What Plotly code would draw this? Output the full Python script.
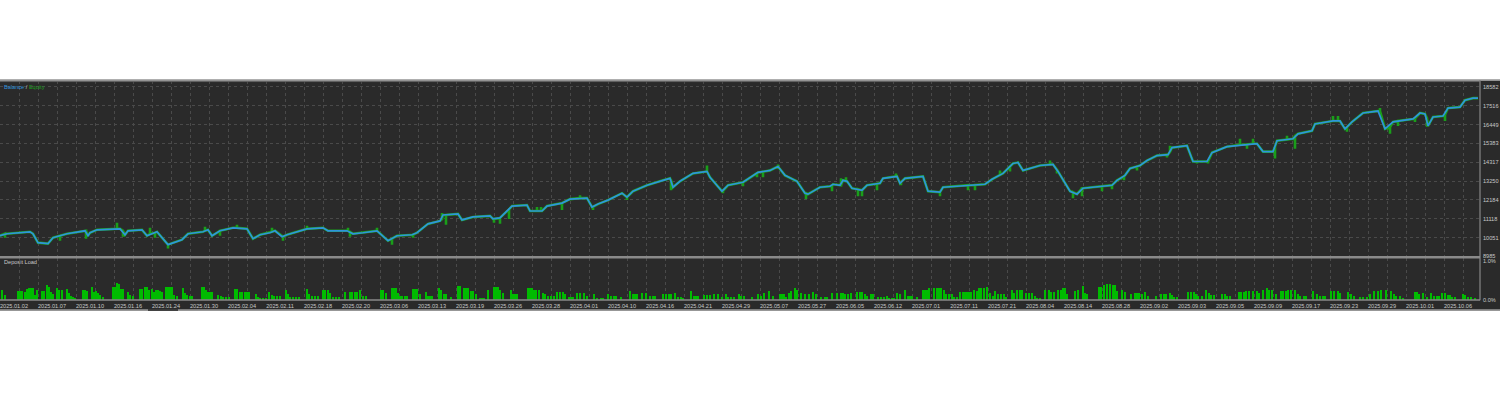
import plotly.graph_objects as go

W, H = 1500, 393

# ---------------- data ----------------
date_labels = ['2025.01.02', '2025.01.07', '2025.01.10', '2025.01.16', '2025.01.24', '2025.01.30',
               '2025.02.04', '2025.02.11', '2025.02.18', '2025.02.20', '2025.03.06', '2025.03.13',
               '2025.03.19', '2025.03.26', '2025.03.28', '2025.04.01', '2025.04.10', '2025.04.16',
               '2025.04.21', '2025.04.29', '2025.05.07', '2025.05.27', '2025.06.05', '2025.06.12',
               '2025.07.01', '2025.07.11', '2025.07.21', '2025.08.04', '2025.08.14', '2025.08.28',
               '2025.09.02', '2025.09.03', '2025.09.05', '2025.09.09', '2025.09.17', '2025.09.23',
               '2025.09.29', '2025.10.01', '2025.10.06']

y_tick_values = [8985, 10051, 11118, 12184, 13250, 14317, 15383, 16449, 17516, 18582]
load_tick_values = [0.0, 1.0]

# balance curve: (deal number, balance)
balance = [
    (0, 10160), (7, 10272), (30, 10384), (33, 10272), (38, 9769), (48, 9713), (53, 10048),
    (67, 10272), (85, 10440), (88, 10160), (90, 10328), (97, 10496), (120, 10552), (125, 10216),
    (128, 10440), (142, 10496), (147, 10160), (157, 10384), (168, 9657), (182, 9936), (188, 10272),
    (203, 10384), (208, 10496), (212, 10160), (220, 10440), (233, 10608), (247, 10552), (253, 9992),
    (260, 10216), (270, 10328), (275, 10440), (282, 10104), (287, 10216), (307, 10552), (323, 10608),
    (328, 10440), (347, 10440), (353, 10272), (363, 10328), (377, 10440), (388, 9881), (397, 10160),
    (412, 10216), (417, 10328), (428, 10832), (440, 11000), (443, 11336), (458, 11392), (462, 11056),
    (473, 11224), (490, 11280), (493, 11112), (500, 11168), (512, 11839), (527, 11895), (530, 11560),
    (542, 11560), (547, 11839), (562, 12007), (570, 12231), (587, 12287), (592, 11784), (598, 11951),
    (608, 12175), (622, 12567), (627, 12343), (633, 12679), (647, 13015), (663, 13295), (670, 13407),
    (673, 12903), (680, 13239), (693, 13686), (707, 13798), (710, 13463), (722, 12679), (728, 13015),
    (743, 13183), (758, 13742), (770, 13854), (778, 14078), (785, 13575), (797, 13239), (805, 12567),
    (808, 12511), (820, 12903), (830, 12959), (833, 13071), (840, 13015), (843, 13295), (847, 13239),
    (852, 12847), (862, 12735), (867, 13015), (880, 13127), (883, 13407), (897, 13519), (900, 13127),
    (905, 13407), (923, 13519), (928, 12679), (940, 12623), (943, 12903), (967, 13015), (985, 13071),
    (992, 13351), (1003, 13686), (1013, 14246), (1018, 14302), (1023, 13854), (1033, 14022),
    (1040, 14134), (1053, 14190), (1058, 13798), (1070, 12679), (1077, 12511), (1083, 12847),
    (1100, 12959), (1112, 13015), (1117, 13295), (1125, 13575), (1130, 13966), (1140, 14134),
    (1147, 14414), (1157, 14694), (1168, 14750), (1172, 15142), (1187, 15254), (1193, 14358),
    (1207, 14358), (1212, 14862), (1227, 15198), (1243, 15310), (1257, 15366), (1263, 14918),
    (1273, 14918), (1277, 15533), (1293, 15645), (1298, 15925), (1312, 16093), (1315, 16485),
    (1333, 16653), (1340, 16653), (1345, 16205), (1352, 16597), (1363, 17101), (1378, 17213),
    (1385, 16205), (1393, 16597), (1413, 16765), (1420, 17101), (1425, 17045), (1428, 16373),
    (1433, 16877), (1443, 16933), (1448, 17381), (1460, 17436), (1465, 17828), (1473, 17940),
    (1478, 17940),
]

# equity excursions away from balance: (deal number, balance there, equity extreme)
equity_spikes = [
    (5, 10272, 10048), (60, 10160, 9881), (86, 10440, 9992), (117, 10552, 10888),
    (123, 10440, 10104), (150, 10272, 10608), (155, 10328, 10048), (168, 9657, 9433),
    (205, 10440, 10664), (220, 10440, 10160), (237, 10608, 10776), (272, 10384, 10608),
    (283, 10104, 9881), (307, 10552, 10720), (348, 10440, 10608), (350, 10384, 10104),
    (377, 10440, 10608), (392, 10000, 9657), (413, 10216, 10048), (442, 11100, 11448),
    (446, 11336, 10776), (494, 11112, 10888), (500, 11168, 10832), (509, 11650, 11112),
    (537, 11560, 11784), (541, 11560, 11784), (562, 12007, 11616), (580, 12287, 12455),
    (593, 11800, 11616), (627, 12343, 12175), (671, 13300, 12735), (707, 13798, 14134),
    (723, 12700, 12567), (743, 13183, 12959), (757, 13700, 13463), (763, 13780, 13463),
    (778, 14078, 14190), (806, 12567, 12231), (832, 13000, 12679), (841, 13015, 13407),
    (846, 13239, 13463), (858, 12790, 12399), (862, 12735, 12399), (877, 13100, 12735),
    (896, 13519, 13686), (901, 13200, 13015), (940, 12623, 12399), (968, 13015, 12735),
    (975, 13030, 12735), (1000, 13600, 13854), (1010, 14078, 13798), (1050, 14190, 14414),
    (1057, 13900, 13686), (1073, 12623, 12287), (1082, 12847, 12399), (1102, 12959, 12679),
    (1112, 13015, 12791), (1124, 13520, 13300), (1137, 14078, 13854), (1167, 14750, 14582),
    (1170, 14900, 15254), (1197, 14358, 14246), (1208, 14358, 14246), (1240, 15310, 15645),
    (1247, 15330, 15086), (1253, 15366, 15645), (1275, 15200, 14526), (1287, 15600, 15813),
    (1295, 15800, 15086), (1333, 16653, 16933), (1338, 16653, 16933), (1347, 16300, 16037),
    (1380, 17213, 17381), (1390, 16300, 15925), (1398, 16650, 16373), (1415, 16800, 16597),
    (1427, 16800, 16317), (1445, 17000, 16653), (1448, 17381, 17436),
]

# deposit load: (deal number, load %)
deposit_load = [
    (2, .26), (5, .13), (18, .23), (20, .23), (22, .23), (25, .21), (27, .28), (29, .30), (31, .30),
    (33, .30), (35, .13), (37, .26), (42, .23), (44, .23), (47, .38), (49, .32), (51, .21), (53, .15),
    (57, .30), (59, .26), (62, .26), (67, .28), (69, .17), (71, .09), (73, .06), (75, .04), (83, .26),
    (85, .26), (87, .23), (92, .34), (94, .21), (96, .23), (98, .17), (100, .11), (103, .06), (113, .32),
    (115, .32), (117, .43), (119, .40), (121, .28), (123, .28), (128, .21), (130, .13), (133, .09),
    (140, .28), (142, .28), (145, .32), (147, .32), (149, .26), (152, .28), (154, .21), (156, .26),
    (158, .26), (160, .23), (162, .21), (166, .34), (168, .34), (170, .34), (172, .34), (174, .13),
    (177, .09), (183, .30), (185, .17), (187, .13), (190, .09), (192, .09), (202, .32), (204, .32),
    (206, .26), (208, .21), (210, .21), (212, .21), (218, .13), (221, .09), (223, .06), (226, .06),
    (229, .06), (235, .28), (237, .28), (240, .21), (242, .21), (245, .20), (247, .20), (249, .20),
    (256, .15), (258, .06), (260, .04), (263, .04), (266, .04), (269, .19), (272, .13), (274, .09),
    (277, .09), (280, .09), (286, .26), (288, .15), (290, .06), (293, .06), (296, .06), (299, .06),
    (307, .28), (309, .15), (312, .09), (315, .09), (318, .09), (323, .26), (325, .26), (328, .26),
    (330, .17), (333, .06), (336, .06), (339, .06), (345, .21), (350, .21), (352, .21), (355, .21),
    (357, .21), (360, .26), (363, .09), (366, .09),
    (381, .26), (383, .26), (386, .18), (392, .31), (394, .31), (396, .31), (398, .18), (400, .09),
    (402, .09), (405, .09), (407, .09), (413, .28), (415, .28), (417, .28), (420, .15), (426, .21),
    (428, .09), (430, .09), (432, .09), (439, .31), (441, .24), (444, .14), (446, .14), (451, .08),
    (458, .36), (460, .36), (464, .31), (466, .31), (468, .31), (471, .22), (473, .22), (476, .15),
    (480, .05), (482, .05), (484, .05), (488, .24), (494, .32), (496, .32), (498, .32), (500, .24),
    (503, .18), (511, .26), (513, .14), (515, .14), (517, .14), (528, .31), (530, .31), (532, .31),
    (534, .24), (536, .24), (539, .24), (543, .18), (545, .14), (548, .09), (551, .09), (554, .09),
    (557, .19), (560, .19), (563, .19), (565, .14), (569, .07), (571, .07), (573, .07), (577, .18),
    (580, .18), (584, .18), (587, .09), (594, .14), (597, .05), (601, .05), (603, .05), (608, .14),
    (611, .09), (614, .09), (616, .09), (621, .07), (630, .22), (633, .14), (635, .14), (637, .14),
    (642, .18), (646, .18), (650, .09), (653, .09), (655, .09), (663, .14), (666, .14), (669, .14),
    (671, .14), (675, .18), (678, .08), (681, .08), (683, .05), (691, .22), (694, .09), (696, .09),
    (698, .09), (704, .12), (707, .12), (710, .12), (714, .14), (718, .14), (722, .07), (726, .15),
    (728, .07), (731, .07), (734, .07), (739, .15), (741, .09), (744, .09), (752, .07), (758, .14),
    (761, .09), (764, .18), (769, .22), (773, .09), (780, .15), (782, .15), (784, .15), (786, .07),
    (789, .18), (791, .22), (795, .31), (797, .26), (801, .18), (805, .15), (809, .14), (813, .21),
    (816, .14), (821, .07), (825, .07), (827, .07), (832, .18), (837, .18), (841, .18), (843, .18),
    (845, .15), (848, .15), (851, .18), (857, .21), (860, .21), (862, .21), (865, .14), (867, .09),
    (871, .15), (873, .15), (878, .07), (881, .07), (884, .07), (887, .09), (889, .05), (892, .05),
    (894, .05), (897, .18), (900, .14), (905, .24), (908, .09), (910, .09), (912, .09), (917, .07),
    (923, .24), (925, .24), (927, .24), (929, .29), (934, .31), (937, .31), (939, .31), (941, .31),
    (944, .24), (946, .15), (949, .15), (952, .15), (954, .07), (957, .07), (960, .21), (963, .21),
    (965, .21), (967, .21), (969, .21), (971, .21), (974, .24), (977, .22), (979, .31), (981, .29),
    (984, .29), (987, .32), (990, .18), (993, .09), (995, .22), (998, .14), (1001, .14), (1004, .14),
    (1006, .07), (1012, .24), (1014, .18), (1017, .24), (1020, .24), (1022, .24), (1026, .18),
    (1029, .18), (1032, .18), (1035, .09), (1037, .05), (1040, .05), (1045, .26), (1049, .26),
    (1051, .21), (1054, .21), (1058, .26), (1061, .26), (1063, .31), (1065, .31), (1067, .14),
    (1075, .22), (1078, .24), (1083, .35), (1085, .18), (1087, .14), (1099, .32), (1101, .32),
    (1104, .38), (1107, .41), (1110, .41), (1113, .38), (1115, .38), (1117, .22), (1122, .26),
    (1125, .21), (1131, .14), (1135, .18), (1137, .18), (1139, .18), (1142, .15), (1145, .21),
    (1148, .09), (1156, .09), (1161, .15), (1164, .15), (1166, .15), (1170, .18), (1172, .12),
    (1174, .07), (1177, .07), (1188, .21), (1191, .21), (1194, .21), (1196, .15), (1198, .09),
    (1202, .09), (1206, .24), (1209, .18), (1211, .12), (1214, .12), (1222, .15), (1225, .15),
    (1227, .09), (1230, .09), (1239, .21), (1241, .21), (1244, .21), (1246, .22), (1249, .22),
    (1253, .22), (1257, .22), (1259, .18), (1263, .24), (1267, .29), (1269, .24), (1272, .26),
    (1276, .14), (1281, .22), (1283, .22), (1286, .22), (1288, .24), (1291, .24), (1295, .24),
    (1298, .14), (1300, .09), (1304, .09), (1306, .09), (1313, .22), (1317, .15), (1320, .09),
    (1323, .09), (1325, .09), (1331, .22), (1334, .22), (1338, .22), (1340, .18), (1348, .21),
    (1351, .14), (1354, .09), (1360, .07), (1363, .07), (1367, .07), (1370, .14), (1374, .22),
    (1378, .22), (1381, .24), (1386, .26), (1391, .22), (1394, .15), (1396, .09), (1400, .09),
    (1403, .05), (1415, .21), (1417, .21), (1419, .14), (1423, .18), (1427, .07), (1431, .18),
    (1434, .09), (1437, .09), (1439, .09), (1442, .18), (1445, .18), (1448, .12), (1450, .12),
    (1452, .07), (1455, .07), (1463, .15), (1465, .12), (1468, .07), (1471, .07), (1475, .05),
]

total_deals = 1480
deals_per_grid = 19

# ---------------- derived series ----------------
bal_x = [d for d, _ in balance]
bal_y = [v for _, v in balance]

eq_pts = [(d, v, 0) for d, v in balance]
for d, base, tip in equity_spikes:
    eq_pts += [(d, base, 1), (d, tip, 2), (d, base, 3)]
eq_pts.sort(key=lambda p: (p[0], p[2]))
eq_x = [p[0] for p in eq_pts]
eq_y = [p[1] for p in eq_pts]

load_x = [d for d, _ in deposit_load]
load_y = [v for _, v in deposit_load]

# ---------------- styling ----------------
BG = '#2a2a2a'
GRID = '#4a4a4a'
TXT = '#c8c8c8'
BLUE = '#2f93dc'
GREEN = '#1a9e1a'
FONT = 'Liberation Sans'
FS = 5.6


def py(px):
    return 1 - px / H


def pxx(px):
    return px / W


x_right = pxx(1480)
main_dom = [py(259), py(82)]
low_dom = [py(302), py(260)]

fig = go.Figure()
fig.add_trace(go.Scatter(x=eq_x, y=eq_y, mode='lines', line=dict(color=GREEN, width=2.6),
                         name='Equity', xaxis='x', yaxis='y', hoverinfo='skip'))
fig.add_trace(go.Scatter(x=bal_x, y=bal_y, mode='lines', line=dict(color=BLUE, width=1.7),
                         name='Balance', xaxis='x', yaxis='y', hoverinfo='skip'))
fig.add_trace(go.Bar(x=load_x, y=load_y, width=2.0, marker=dict(color='#00bb00', line=dict(width=0)),
                     name='Deposit Load', xaxis='x2', yaxis='y2', hoverinfo='skip'))

grid_vals = list(range(0, total_deals, deals_per_grid))
grid_text = [date_labels[i // 2] if i % 2 == 0 and i // 2 < len(date_labels) else '' for i in range(len(grid_vals))]

axis_font = dict(family=FONT, size=FS, color=TXT)

fig.update_layout(
    width=W, height=H, margin=dict(l=0, r=0, t=0, b=0),
    paper_bgcolor='white', plot_bgcolor=BG, showlegend=False, bargap=0,
    xaxis=dict(domain=[0, x_right], range=[0, total_deals], anchor='y', tickmode='array',
               tickvals=grid_vals, showticklabels=False, ticks='', showgrid=True, gridcolor=GRID,
               griddash='dot', gridwidth=1, zeroline=False, showline=False),
    yaxis=dict(domain=main_dom, range=[8957, 18890], side='right', anchor='x', tickmode='array',
               tickvals=y_tick_values, ticktext=[str(v) for v in y_tick_values], tickfont=axis_font,
               ticks='', ticklabelstandoff=2, showgrid=True, gridcolor=GRID, griddash='dot', gridwidth=1,
               zeroline=False, showline=False),
    xaxis2=dict(domain=[0, x_right], range=[0, total_deals], anchor='y2', tickmode='array',
                tickvals=grid_vals, ticktext=grid_text, tickfont=axis_font, ticks='', ticklabelshift=14,
                ticklabelstandoff=2, showgrid=True, gridcolor=GRID, griddash='dot', gridwidth=1,
                zeroline=False, showline=False, tickangle=0),
    yaxis2=dict(domain=low_dom, range=[0, 1.08], side='right', anchor='x2', tickmode='array',
                tickvals=load_tick_values, ticktext=['%.1f%%' % v for v in load_tick_values],
                tickfont=axis_font, ticks='', ticklabelstandoff=2, showgrid=False, zeroline=False,
                showline=False),
)

shapes = [
    dict(type='rect', xref='paper', yref='paper', x0=0, x1=1, y0=py(313), y1=py(80),
         fillcolor=BG, line=dict(width=0), layer='below'),
    dict(type='line', xref='paper', yref='paper', x0=0, x1=1, y0=py(80.6), y1=py(80.6),
         line=dict(color='#b8b8b8', width=1.3)),
    dict(type='line', xref='paper', yref='paper', x0=0, x1=x_right, y0=py(82.2), y1=py(82.2),
         line=dict(color='#666666', width=1)),
    dict(type='line', xref='paper', yref='paper', x0=x_right, x1=x_right, y0=py(302.5), y1=py(81),
         line=dict(color='#7a7a7a', width=1.4)),
    dict(type='line', xref='paper', yref='paper', x0=0, x1=x_right, y0=py(259.3), y1=py(259.3),
         line=dict(color='#8a8a8a', width=2.4)),
    dict(type='line', xref='paper', yref='paper', x0=0, x1=x_right, y0=py(302.3), y1=py(302.3),
         line=dict(color='#8a8a8a', width=1.4)),
    dict(type='line', xref='paper', yref='paper', x0=0, x1=1, y0=py(312.3), y1=py(312.3),
         line=dict(color='#9a9a9a', width=1.2)),
    dict(type='line', xref='paper', yref='paper', x0=pxx(148), x1=pxx(178), y0=py(312.3), y1=py(312.3),
         line=dict(color='#3a3a3a', width=2)),
]
fig.update_layout(shapes=shapes)

fig.add_annotation(xref='paper', yref='paper', x=pxx(2), y=py(87.5), xanchor='left', yanchor='middle',
                   showarrow=False, font=dict(family=FONT, size=FS, color=TXT),
                   text="<span style='color:%s'>Balance</span> / <span style='color:%s'>Equity</span>" % (BLUE, GREEN))
fig.add_annotation(xref='paper', yref='paper', x=pxx(2), y=py(264.5), xanchor='left', yanchor='middle',
                   showarrow=False, font=dict(family=FONT, size=FS, color=TXT), text='Deposit Load')

fig.write_html('out.html', config={'displayModeBar': False})
